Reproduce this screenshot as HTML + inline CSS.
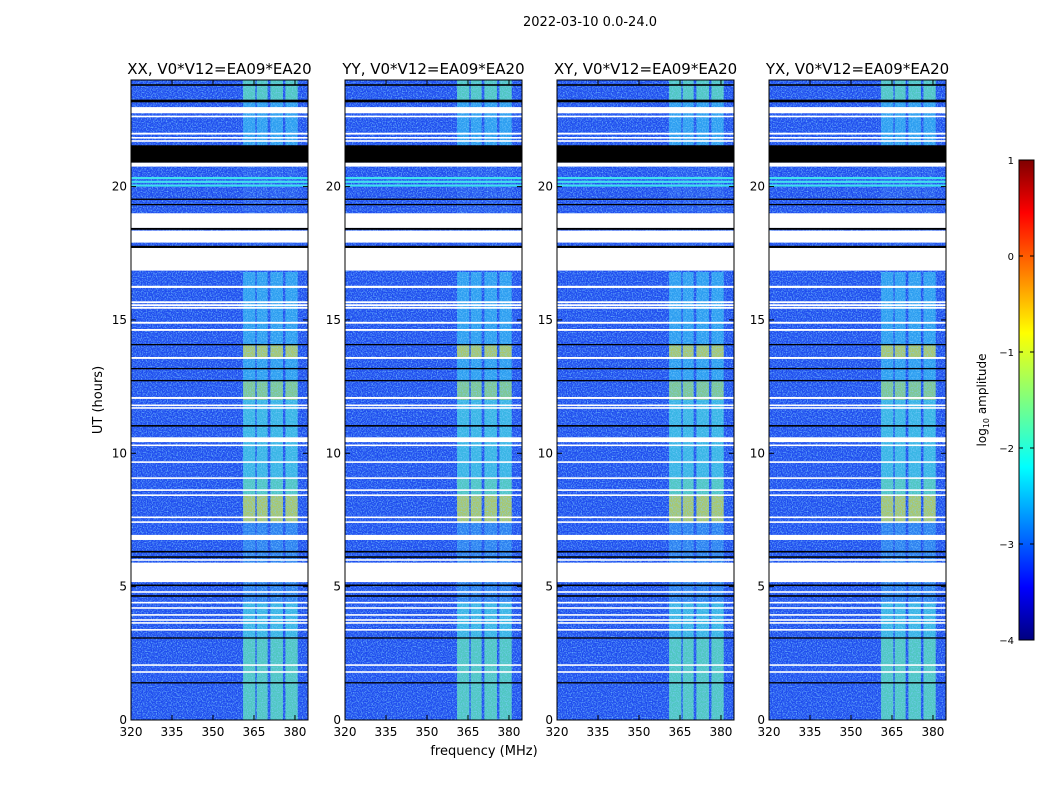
<!DOCTYPE html>
<html><head><meta charset="utf-8"><style>
body{margin:0;background:#fff;font-family:"DejaVu Sans","Liberation Sans",sans-serif}
svg text{font-family:"DejaVu Sans","Liberation Sans",sans-serif}
</style></head><body>
<svg id="fig" width="1050" height="800" xmlns="http://www.w3.org/2000/svg">
<defs>
<filter id="nz" x="0" y="0" width="100%" height="100%">
<feTurbulence type="fractalNoise" baseFrequency="0.8" numOctaves="1" seed="3"/>
<feColorMatrix type="matrix" values="0 0 0 0 0.2  0 0 0 0 0.6  0 0 0 0 1  0 0 0 2.2 -0.95"/>
</filter>
<linearGradient id="jet" x1="0" y1="1" x2="0" y2="0">
<stop offset="0" stop-color="#00007f"/><stop offset="0.11" stop-color="#0000ff"/>
<stop offset="0.36" stop-color="#00ffff"/><stop offset="0.5" stop-color="#7fff7f"/>
<stop offset="0.64" stop-color="#ffff00"/><stop offset="0.89" stop-color="#ff0000"/>
<stop offset="1" stop-color="#7f0000"/></linearGradient>
</defs>
<text x="590" y="26" font-size="13" text-anchor="middle">2022-03-10 0.0-24.0</text>
<text x="484" y="755" font-size="13" text-anchor="middle">frequency (MHz)</text>
<text transform="translate(102,400) rotate(-90)" font-size="13" text-anchor="middle">UT (hours)</text>
<g id="panels"></g>
<g id="cbar"></g>
</svg>
<script>
const NS="http://www.w3.org/2000/svg";
const panelTitles=["XX, V0*V12=EA09*EA20","YY, V0*V12=EA09*EA20","XY, V0*V12=EA09*EA20","YX, V0*V12=EA09*EA20"];
const xTicks=[320,335,350,365,380];
const yTicks=[0,5,10,15,20];
const whiteRows=[[22.75,22.98],[22.6,22.66],[21.95,22.02],[21.8,21.86],[21.68,21.74],[20.75,20.9],[18.45,19.0],[17.9,18.35],[16.85,17.7],[16.2,16.28],[15.63,15.7],[15.52,15.59],[15.42,15.49],[14.86,14.93],[14.59,14.66],[13.54,13.61],[12.04,12.11],[11.77,11.83],[11.67,11.73],[10.42,10.6],[10.27,10.33],[9.64,9.7],[9.04,9.1],[8.59,8.65],[8.4,8.46],[7.57,7.63],[7.39,7.45],[6.75,6.94],[5.97,6.03],[5.17,5.9],[4.77,4.83],[4.37,4.43],[4.17,4.23],[3.91,3.97],[3.72,3.78],[3.61,3.67],[3.35,3.41],[2.03,2.09],[1.77,1.83]];
const blackRows=[[23.78,23.84],[23.16,23.26],[20.9,21.55],[19.5,19.55],[19.3,19.35],[18.38,18.45],[17.7,17.78],[14.05,14.1],[13.15,13.2],[12.7,12.75],[11.0,11.06],[6.28,6.34],[6.08,6.14],[5.02,5.08],[4.62,4.68],[3.05,3.1],[1.37,1.42]];
const brightStripes=[[20.0,20.08],[20.14,20.22],[20.28,20.36]];
const bandSegs=[[0,1.4,2],[1.4,3.07,2],[3.07,4.4,1.5],[4.4,6.3,0.5],[6.3,7.4,0.6],[7.4,8.4,3],[8.4,9.1,2],[9.1,11,1.5],[11,12,1.6],[12,12.7,2.5],[12.7,13.6,1.2],[13.6,14.05,3],[14.05,16.8,1.4],[17.7,20.9,0.3],[21.55,23.2,1],[23.2,24,2]];
const bandCols=[[361,365.5],[366,370],[371,375.6],[376.5,381]];
const cbTicks=[1,0,-1,-2,-3,-4];
const panelX=[131,345,557,769];
const PW=177,Y0=720,HPX=26.67,MHZ=2.733;
const yS=h=>Y0-h*HPX;
function lvlColor(l){const c=[[0,"#2a5cf0"],[0.5,"#3090f0"],[1,"#30b8f0"],[1.5,"#40d8e0"],[2,"#60f0b0"],[2.5,"#a0f070"],[3,"#d8f040"]];let best=c[0][1];for(const [v,col] of c){if(l>=v)best=col;}return best;}
function el(t,a,p){const e=document.createElementNS(NS,t);for(const k in a)e.setAttribute(k,a[k]);p.appendChild(e);return e;}
const root=document.getElementById('panels');
panelTitles.forEach((title,i)=>{
 const x0=panelX[i];const xS=f=>x0+(f-320)*MHZ;
 const g=el('g',{},root);
 
 
 const bg=el('rect',{x:x0,y:80,width:PW,height:640,fill:'#1f4cee'},g);
 
 
 bandSegs.forEach(s=>{bandCols.forEach(c=>{const r=el('rect',{x:xS(c[0]),y:yS(s[1]),width:(c[1]-c[0])*MHZ,height:(s[1]-s[0])*HPX,fill:lvlColor(s[2]),opacity:0.75},g);
  
  });});
 el('rect',{x:x0,y:80,width:PW,height:640,filter:'url(#nz)'},g);
 brightStripes.forEach(s=>{const r=el('rect',{x:x0,y:yS(s[1]),width:PW,height:(s[1]-s[0])*HPX,fill:'#40e0f0'},g);
  
  });
 whiteRows.forEach(s=>{const r=el('rect',{x:x0,y:yS(s[1]),width:PW,height:Math.max(1.5,(s[1]-s[0])*HPX),fill:'#fff'},g);
  
  });
 blackRows.forEach(s=>{const r=el('rect',{x:x0,y:yS(s[1]),width:PW,height:Math.max(1.3,(s[1]-s[0])*HPX),fill:'#000'},g);
  
  });
 el('rect',{x:x0,y:80,width:PW,height:640,fill:'none',stroke:'#000','stroke-width':1},g);
 const t=el('text',{x:x0+PW/2,y:74,'font-size':15,'text-anchor':'middle'},g);t.textContent=title;
 
 
 xTicks.forEach(v=>{const x=xS(v);el('line',{x1:x,x2:x,y1:720,y2:715,stroke:'#000'},g);el('line',{x1:x,x2:x,y1:80,y2:85,stroke:'#000'},g);
  const tx=el('text',{x:x,y:736,'font-size':12,'text-anchor':'middle'},g);tx.textContent=v;
  
  });
 yTicks.forEach(v=>{const y=yS(v);el('line',{x1:x0,x2:x0+5,y1:y,y2:y,stroke:'#000'},g);el('line',{x1:x0+PW,x2:x0+PW-5,y1:y,y2:y,stroke:'#000'},g);
  const ty=el('text',{x:x0-4,y:y+4,'font-size':12,'text-anchor':'end'},g);ty.textContent=v;
  
  });
});
const cb=document.getElementById('cbar');
const cbr=el('rect',{x:1019,y:160,width:15,height:480,fill:'url(#jet)',stroke:'#000'},cb);


cbTicks.forEach(v=>{const y=160+(1-v)*96;el('line',{x1:1019,x2:1023,y1:y,y2:y,stroke:'#000'},cb);el('line',{x1:1034,x2:1030,y1:y,y2:y,stroke:'#000'},cb);
 const t=el('text',{x:1014,y:y+4,'font-size':10,'text-anchor':'end'},cb);t.textContent=v<0?'\u2212'+(-v):v;
 
 });
const cl=el('text',{transform:'translate(986,400) rotate(-90)','font-size':12,'text-anchor':'middle'},cb);
cl.innerHTML='log<tspan font-size="8" dy="3">10</tspan><tspan dy="-3"> amplitude</tspan>';


</script>
</body></html>
